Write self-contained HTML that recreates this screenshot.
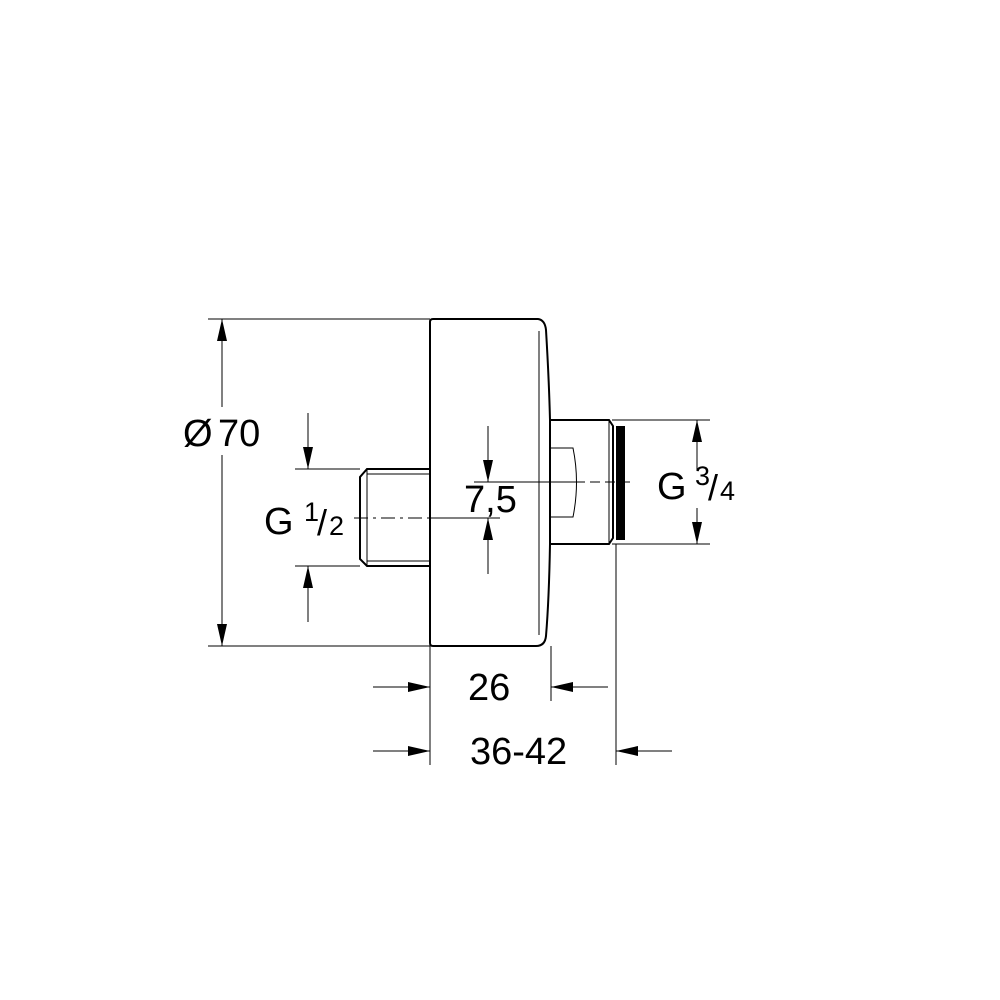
<!DOCTYPE html>
<html><head><meta charset="utf-8"><style>html,body{margin:0;padding:0;background:#fff}svg{display:block}</style></head>
<body>
<svg width="1000" height="1000" viewBox="0 0 1000 1000" xmlns="http://www.w3.org/2000/svg" font-family="Liberation Sans, sans-serif">
<defs>
<marker id="a" viewBox="0 0 22 10" refX="22" refY="5" markerWidth="22" markerHeight="10" markerUnits="userSpaceOnUse" orient="auto"><path d="M0,0 L22,5 L0,10 Z" fill="#000"/></marker>
</defs>
<g stroke="#000" fill="none">
<g stroke-width="1">
<line x1="208" y1="319" x2="430" y2="319"/>
<line x1="208" y1="646" x2="430" y2="646"/>
<line x1="295" y1="469" x2="360" y2="469"/>
<line x1="295" y1="566" x2="360" y2="566"/>
<line x1="612" y1="420" x2="710" y2="420"/>
<line x1="612" y1="544" x2="710" y2="544"/>
<line x1="430" y1="646" x2="430" y2="765"/>
<line x1="551" y1="646" x2="551" y2="701"/>
<line x1="616" y1="544" x2="616" y2="765"/>
<line x1="354" y1="518" x2="430" y2="518" stroke-dasharray="14,5,3,5"/>
<line x1="430" y1="518" x2="500" y2="518"/>
<line x1="474" y1="482" x2="575" y2="482"/>
<line x1="575" y1="482" x2="635" y2="482" stroke-dasharray="10,5"/>
<line x1="222" y1="407" x2="222" y2="319" marker-end="url(#a)"/>
<line x1="222" y1="455" x2="222" y2="646" marker-end="url(#a)"/>
<line x1="308" y1="413" x2="308" y2="469" marker-end="url(#a)"/>
<line x1="308" y1="622" x2="308" y2="566" marker-end="url(#a)"/>
<line x1="488" y1="426" x2="488" y2="482" marker-end="url(#a)"/>
<line x1="488" y1="574" x2="488" y2="518" marker-end="url(#a)"/>
<line x1="697" y1="470" x2="697" y2="420" marker-end="url(#a)"/>
<line x1="697" y1="508" x2="697" y2="544" marker-end="url(#a)"/>
<line x1="373" y1="687" x2="430" y2="687" marker-end="url(#a)"/>
<line x1="608" y1="687" x2="551" y2="687" marker-end="url(#a)"/>
<line x1="373" y1="751" x2="430" y2="751" marker-end="url(#a)"/>
<line x1="672" y1="751" x2="616" y2="751" marker-end="url(#a)"/>
</g>
<g stroke-width="2">
<path d="M433,319 L538,319 Q545,320 546,330 Q549,380 550,420 L550,544 Q549,600 546,636 Q545,646 536,646 L433,646 Q430,646 430,643 L430,322 Q430,319 433,319 Z"/>
<path d="M430,469 L367,469 L360,477 L360,559 L367,566 L430,566"/>
<path d="M550,420 L609,420 L613,426 L613,538 L609,544 L550,544"/>
</g>
<g stroke-width="1">
<line x1="539" y1="331" x2="539" y2="635"/>
<line x1="367" y1="474" x2="430" y2="474"/>
<line x1="367" y1="561" x2="430" y2="561"/>
<line x1="367" y1="469" x2="367" y2="566"/>
<line x1="609" y1="420" x2="609" y2="544"/>
<path d="M550,448 L573,448 Q580,482 573,517 L550,517"/>
</g>
</g>
<rect x="616" y="426" width="9" height="114" fill="#000"/>
<g fill="#000" font-size="38">
<text x="183" y="446">Ø</text><text x="218" y="446">70</text>
<text x="464" y="512">7,5</text>
<text x="468" y="700">26</text>
<text x="470" y="764">36-42</text>
<text x="264" y="534" font-size="38">G</text>
<text x="304" y="521" font-size="27">1</text>
<text x="317" y="535" font-size="36">/</text>
<text x="329" y="535" font-size="27">2</text>
<text x="657" y="499" font-size="38">G</text>
<text x="695" y="485" font-size="27">3</text>
<text x="708" y="500" font-size="36">/</text>
<text x="720" y="500" font-size="27">4</text>
</g>
</svg>
</body></html>
